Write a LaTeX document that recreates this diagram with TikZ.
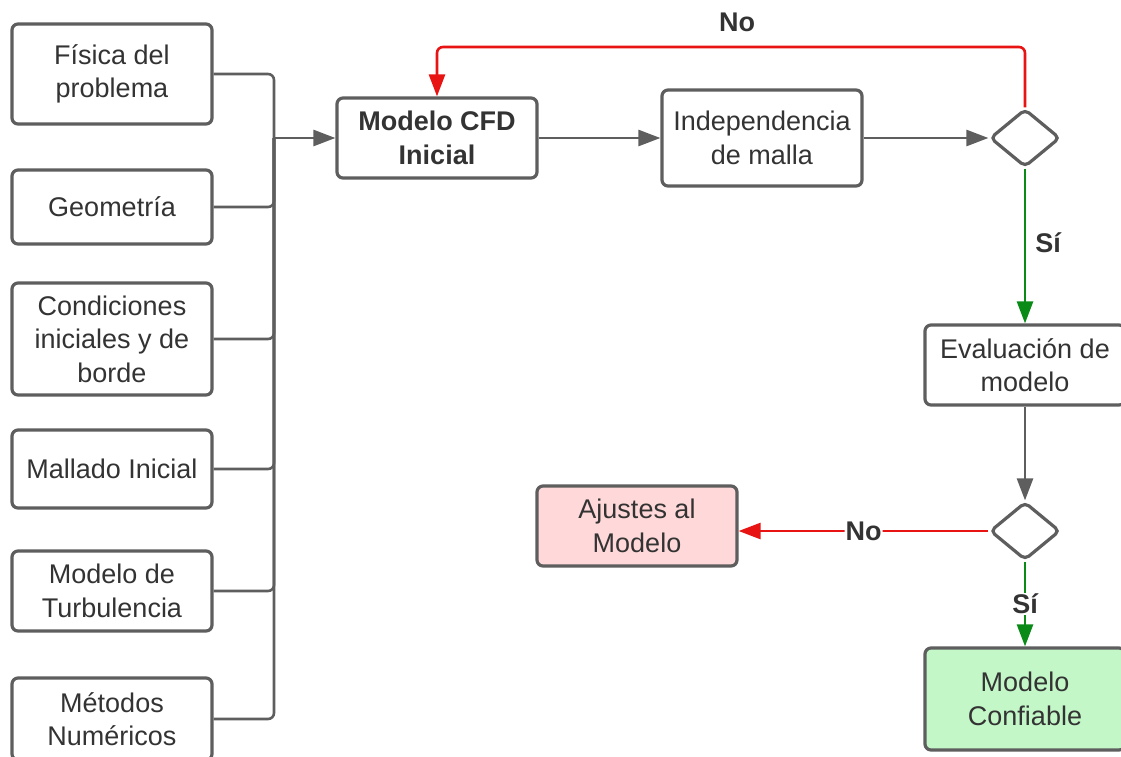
\documentclass[tikz,border=0pt]{standalone}
\usepackage{fontspec}
\setmainfont{Liberation Sans}
\usetikzlibrary{arrows.meta,shapes.geometric,positioning}

\definecolor{txtgray}{HTML}{333333}
\definecolor{linegray}{HTML}{5E5E5E}
\definecolor{nored}{HTML}{E81313}
\definecolor{sigreen}{HTML}{0A8A17}
\definecolor{redfill}{HTML}{FFD9D9}
\definecolor{greenfill}{HTML}{C3F7C8}

\begin{document}
\begin{tikzpicture}[x=1pt,y=-1pt,
  box/.style={draw=linegray,line width=3.2pt,rounded corners=6pt,fill=white,
    minimum width=200pt,align=center,text=txtgray,font=\fontsize{27}{33.5}\selectfont},
  decision/.style={draw=linegray,line width=3.2pt,shape=diamond,rounded corners=5pt,
    minimum width=70pt,minimum height=58pt,aspect=1.2,inner sep=0pt},
  conn/.style={draw=linegray,line width=2.6pt,rounded corners=6pt},
  arrowg/.style={conn,-{Triangle[length=22pt,width=16pt]}},
  arrowr/.style={draw=nored,line width=2.6pt,rounded corners=6pt,-{Triangle[length=22pt,width=16pt]}},
  arrowv/.style={draw=sigreen,line width=2.6pt,-{Triangle[length=22pt,width=16pt]}},
  lab/.style={text=txtgray,font=\bfseries\fontsize{27}{33}\selectfont,inner sep=1pt}]
\useasboundingbox (0,0) rectangle (1121,756);

% inputs on the left
\path (112,74)  node[box,minimum height=100pt] (fis) {Física del\\problema};
\path (112,207) node[box,minimum height=74pt]  (geo) {Geometría};
\path (112,339) node[box,minimum height=112pt] (cond) {Condiciones\\iniciales y de\\borde};
\path (112,469) node[box,minimum height=78pt]  (mall) {Mallado Inicial};
\path (112,591) node[box,minimum height=80pt]  (turb) {Modelo de\\Turbulencia};
\path (112,719) node[box,minimum height=82pt]  (met) {Métodos\\Numéricos};

% main chain
\path (437,138)  node[box,minimum height=80pt,font=\bfseries\fontsize{27}{33.5}\selectfont] (cfd) {Modelo CFD\\Inicial};
\path (762,138)  node[box,minimum height=96pt] (ind) {Independencia\\de malla};
\path (1025,138) node[decision] (d1) {};
\path (1025,365) node[box,minimum height=80pt] (eva) {Evaluación de\\modelo};
\path (1025,531) node[decision] (d2) {};
\path (637,526)  node[box,minimum height=80pt,fill=redfill] (aju) {Ajustes al\\Modelo};
\path (1025,699) node[box,minimum height=102pt,fill=greenfill] (conf) {Modelo\\Confiable};

\coordinate (join) at (274,138);
\coordinate (loop) at (737,47);

\draw[conn] (fis.east)  -| (join);
\draw[conn] (geo.east)  -| (join);
\draw[conn] (cond.east) -| (join);
\draw[conn] (mall.east) -| (join);
\draw[conn] (turb.east) -| (join);
\draw[conn] (met.east)  -| (join);
\draw[arrowg] (join) -- (cfd.west);

\draw[arrowg] (cfd.east) -- (ind.west);
\draw[arrowg] (ind.east) -- (d1.west);
\draw[arrowr] (d1.north) |- (loop) -| (cfd.north);
\path (737,22) node[lab] (no1) {No};
\draw[arrowv] (d1.south) -- (eva.north);
\path (1048,243) node[lab] (si1) {Sí};

\draw[arrowg] (eva.south) -- (d2.north);
\draw[arrowr] (d2.west) -- node[lab,fill=white] (no2) {No} (d2.west -| aju.east);
\draw[arrowv] (d2.south) -- node[lab,fill=white] (si2) {Sí} (conf.north);
\end{tikzpicture}
\end{document}
